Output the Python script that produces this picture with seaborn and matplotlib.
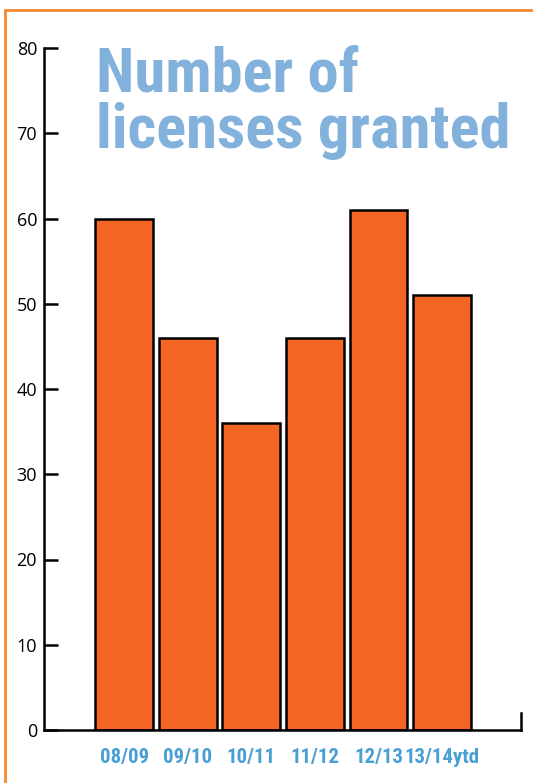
import numpy as np
import pandas as pd
import seaborn as sns
import matplotlib.pyplot as plt
from matplotlib.lines import Line2D

years = ['08/09', '09/10', '10/11', '11/12', '12/13', '13/14ytd']
licenses = [60, 46, 36, 46, 61, 51]
y_ticks = [0, 10, 20, 30, 40, 50, 60, 70, 80]

bar_color = '#f26522'
title_color = '#82b1db'
label_color = '#4a9fd5'
frame_color = '#f7892f'
cond = ['Roboto Condensed', 'DejaVu Sans']

df = pd.DataFrame({'year': years, 'licenses': licenses})

sns.set_style('white')
plt.rcParams['font.family'] = ['Open Sans', 'DejaVu Sans']

fig = plt.figure(figsize=(5.33, 7.83), dpi=100)
ax = fig.add_axes([44/533, 1-730/783, (521-44)/533, (730-48)/783])

sns.barplot(data=df, x='year', y='licenses', color=bar_color, saturation=1,
            edgecolor='black', linewidth=1.8, width=0.91, ax=ax)

ax.set_xlim(-1.26, 6.24)
ax.set_ylim(0, 80)
ax.set_yticks(y_ticks)
ax.set_xlabel('')
ax.set_ylabel('')

ax.spines['top'].set_visible(False)
for s in ['left', 'bottom', 'right']:
    ax.spines[s].set_color('black')
    ax.spines[s].set_linewidth(1.8)
ax.spines['right'].set_bounds(0, 2)

ax.tick_params(axis='y', direction='in', length=10, width=1.8, colors='black',
               labelsize=13, pad=5, left=True)
ax.tick_params(axis='x', length=0, pad=13)
for lab in ax.get_xticklabels():
    lab.set_color(label_color)
    lab.set_fontweight('bold')
    lab.set_fontsize(15)
    lab.set_family(cond)

# title, two lines, fitted to the width in the reference
t1 = fig.text(96/533, 1-92/783, 'Number of', color=title_color, fontsize=48,
              fontweight='bold', va='baseline', ha='left', family=cond)
t2 = fig.text(96/533, 1-148/783, 'licenses granted', color=title_color, fontsize=48,
              fontweight='bold', va='baseline', ha='left', family=cond)
r = fig.canvas.get_renderer()
w = t2.get_window_extent(r).width
size = 48 * 414 / w
t1.set_fontsize(size)
t2.set_fontsize(size)

# orange frame on the left and top
fig.add_artist(Line2D([5/533, 5/533], [0, 1-10/783], color=frame_color, lw=2,
                      transform=fig.transFigure))
fig.add_artist(Line2D([5/533, 1], [1-10/783, 1-10/783], color=frame_color, lw=2,
                      transform=fig.transFigure))

fig.savefig('out.png', dpi=100)
